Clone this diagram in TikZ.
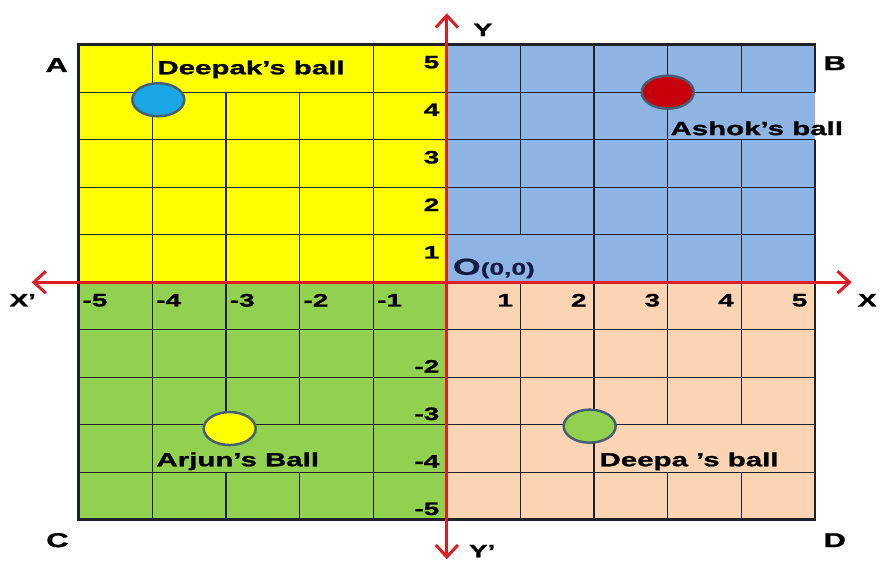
\documentclass[tikz,border=0pt]{standalone}
\usepackage{fontspec}
\setmainfont{Liberation Sans}[FakeStretch=1.55, BoldFeatures={FakeBold=1.2}]
\usetikzlibrary{shapes.geometric, arrows.meta, positioning}
\definecolor{quadyellow}{RGB}{255, 255, 0}
\definecolor{quadblue}{RGB}{141, 180, 226}
\definecolor{quadgreen}{RGB}{146, 208, 80}
\definecolor{quadpeach}{RGB}{251, 212, 180}
\definecolor{axisred}{RGB}{222, 28, 36}
\definecolor{gridline}{RGB}{30, 34, 40}
\definecolor{ballrim}{RGB}{70, 95, 115}
\definecolor{originblue}{RGB}{20, 28, 70}
\definecolor{ballcyan}{RGB}{25, 165, 230}
\definecolor{ballred}{RGB}{200, 0, 12}

\begin{document}
\begin{tikzpicture}[
        x=73.6pt, y=47.5pt,
        cell/.style={line width=1.3pt, draw=gridline},
        frame/.style={line width=2.6pt, draw=gridline, line join=miter},
        axis/.style={{Straight Barb[length=12pt, width=22pt]}-{Straight Barb[length=12pt, width=22pt]}, line width=3pt, draw=axisred},
        ball/.style={ellipse, draw=ballrim, line width=2.5pt, minimum width=52pt, minimum height=33pt, inner sep=0pt},
        tag/.style={font=\fontsize{19}{19}\selectfont\bfseries, inner sep=0pt},
        num/.style={font=\fontsize{18}{18}\selectfont\bfseries, inner sep=0pt},
        corner/.style={font=\fontsize{20}{20}\selectfont\bfseries, inner sep=0pt}
    ]
        \useasboundingbox (-6.07,-5.85) rectangle (5.87,5.94);
        \fill[quadyellow] (-5,0) rectangle (0,5);
        \fill[quadblue] (0,0) rectangle (5,5);
        \fill[quadgreen] (-5,-5) rectangle (0,0);
        \fill[quadpeach] (0,-5) rectangle (5,0);

        \foreach \y in {-4,...,-1,1,2,3,4}
            \draw[cell] (-5,\y) -- (5,\y);
        \foreach \x/\ya/\yb in {-4/-5/5, -3/-5/-4, -3/-3/4, -2/-5/-4, -2/-3/4, -1/-5/5,
                1/-5/0, 1/1/5, 2/-5/5, 3/-5/-4, 3/-3/5, 4/-5/-4, 4/-3/3, 4/4/5}
            \draw[cell] (\x,\ya) -- (\x,\yb);
        \draw[frame] (5,3) -- (5,-5) -- (-5,-5) -- (-5,5) -- (5,5) -- (5,4);

        \coordinate (xl) at (-5.64,0);
        \coordinate (xr) at (5.50,0);
        \coordinate (yt) at (0,5.66);
        \coordinate (yb) at (0,-5.83);
        \draw[axis] (xl) -- (xr);
        \draw[axis] (yb) -- (yt);

        \foreach \k in {1,...,5} {
            \node[num, anchor=east] (yp\k) at (-0.1,\k-0.37) {\k};
            \node[num, anchor=east] (xp\k) at (\k-0.1,-0.38) {\k};
        }
        \foreach \k in {2,...,5}
            \node[num, anchor=east] (yn\k) at (-0.1,-\k+0.23) {-\k};
        \foreach \k in {1,...,5}
            \node[num, anchor=west] (xn\k) at (-\k+0.05,-0.38) {-\k};

        \node[ball, fill=ballcyan] (deepak) at (-3.92,3.84) {};
        \node[ball, fill=ballred] (ashok) at (3,4) {};
        \node[ball, fill=quadyellow] (arjun) at (-2.95,-3.08) {};
        \node[ball, fill=quadgreen] (deepa) at (1.94,-3.03) {};
        \node[tag] (deepaktag) at (-2.66,4.48) {Deepak's ball};
        \node[tag] (ashoktag) at (4.21,3.24) {Ashok's ball};
        \node[tag] (arjuntag) at (-2.84,-3.77) {Arjun's Ball};
        \node[tag] (deepatag) at (3.29,-3.77) {Deepa 's ball};

        \node[corner] (qa) at (-5.30,4.57) {A};
        \node[corner] (qb) at (5.27,4.61) {B};
        \node[corner] (qc) at (-5.29,-5.43) {C};
        \node[corner] (qd) at (5.27,-5.43) {D};
        \node[num] (ylab) at (0.49,5.31) {Y};
        \node[num] (yprime) at (0.48,-5.66) {Y'};
        \node[num] (xprime) at (-5.76,-0.38) {X'};
        \node[num] (xlab) at (5.71,-0.38) {X};
        \node[anchor=west, text=originblue, inner sep=0pt] (origin) at (0.08,0.29)
            {\fontsize{23}{23}\selectfont\bfseries O\fontsize{17}{17}\selectfont(0,0)};
    \end{tikzpicture}
\end{document}
